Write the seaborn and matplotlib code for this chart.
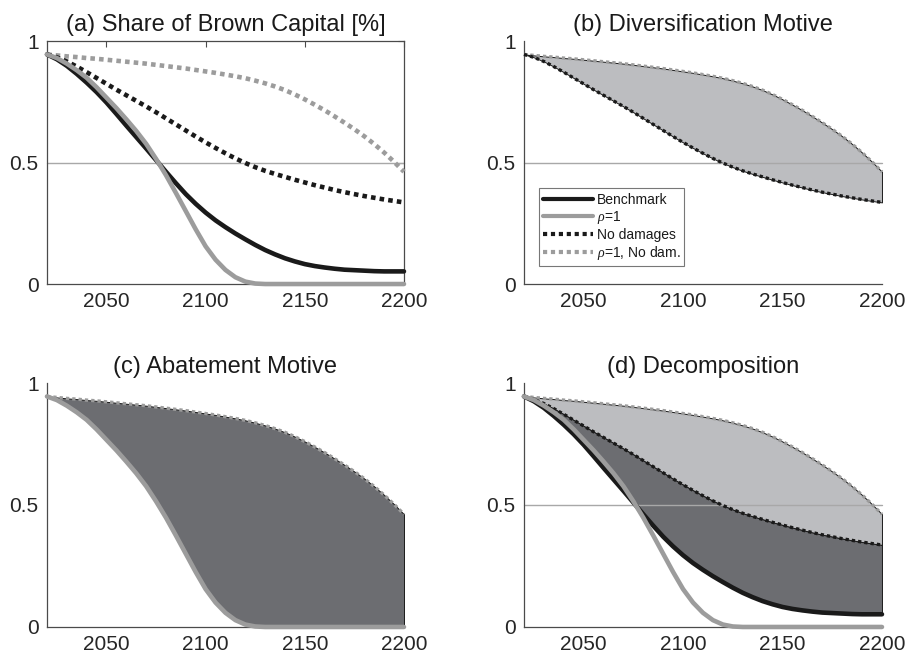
import numpy as np
import pandas as pd
import matplotlib
matplotlib.use("Agg")
import matplotlib.pyplot as plt
import seaborn as sns
from matplotlib.lines import Line2D

# ---------------- data ----------------
years = list(range(2020, 2201, 5))

benchmark = [0.945, 0.925, 0.898, 0.865, 0.829, 0.790, 0.747, 0.700, 0.652, 0.605,
             0.558, 0.510, 0.462, 0.415, 0.370, 0.330, 0.294, 0.262, 0.234, 0.208,
             0.184, 0.161, 0.140, 0.122, 0.106, 0.093, 0.082, 0.074, 0.068, 0.063,
             0.059, 0.057, 0.055, 0.053, 0.052, 0.052, 0.052]

rho1 = [0.945, 0.930, 0.907, 0.880, 0.849, 0.810, 0.767, 0.724, 0.678, 0.630,
        0.577, 0.515, 0.448, 0.375, 0.300, 0.225, 0.155, 0.100, 0.058, 0.028,
        0.010, 0.002, 0.0, 0.0, 0.0, 0.0, 0.0, 0.0, 0.0, 0.0,
        0.0, 0.0, 0.0, 0.0, 0.0, 0.0, 0.0]

no_damages = [0.945, 0.933, 0.916, 0.895, 0.872, 0.848, 0.824, 0.800, 0.777, 0.754,
              0.731, 0.707, 0.682, 0.657, 0.632, 0.607, 0.583, 0.560, 0.538, 0.517,
              0.498, 0.481, 0.466, 0.453, 0.441, 0.429, 0.418, 0.407, 0.397, 0.387,
              0.378, 0.370, 0.362, 0.355, 0.348, 0.342, 0.336]

rho1_no_dam = [0.945, 0.941, 0.937, 0.934, 0.930, 0.927, 0.923, 0.919, 0.915, 0.911,
               0.907, 0.902, 0.897, 0.892, 0.887, 0.881, 0.875, 0.869, 0.862, 0.855,
               0.847, 0.837, 0.826, 0.813, 0.798, 0.780, 0.760, 0.738, 0.715, 0.690,
               0.664, 0.637, 0.608, 0.576, 0.541, 0.503, 0.462]

titles = ["(a) Share of Brown Capital [%]", "(b) Diversification Motive",
          "(c) Abatement Motive", "(d) Decomposition"]
legend_labels = ["Benchmark", r"$\rho$=1", "No damages", r"$\rho$=1, No dam."]
xticks = [2050, 2100, 2150, 2200]
yticks = [0, 0.5, 1]
ytick_labels = ["0", "0.5", "1"]

# ---------------- style ----------------
sns.set_theme(style="white")
plt.rcParams["font.family"] = ["Liberation Sans", "DejaVu Sans"]
plt.rcParams["mathtext.fontset"] = "custom"
plt.rcParams["mathtext.it"] = "Liberation Serif:italic"

BLACK = "#1a1a1a"
GRAY = "#9c9c9c"
LIGHT = "#bcbdc0"
DARK = "#6c6d71"
AXC = "#4a4a4a"
DOT = (0, (1, 0.9))
LW = 3.3
LWD = 2.4

df = pd.DataFrame({"year": years, "bench": benchmark, "rho1": rho1,
                   "nodam": no_damages, "rho1nodam": rho1_no_dam})

fig = plt.figure(figsize=(9.07, 6.59), dpi=100)
pos = [(0.0518, 0.569, 0.3936, 0.3687), (0.5777, 0.569, 0.3947, 0.3687),
       (0.0518, 0.0486, 0.3936, 0.3702), (0.5777, 0.0486, 0.3947, 0.3702)]
axes = [fig.add_axes(p) for p in pos]

def style_ax(ax, title, box=False):
    ax.set_xlim(2020, 2200)
    ax.set_ylim(0, 1)
    ax.set_xticks(xticks)
    ax.set_xticklabels([str(t) for t in xticks])
    ax.set_yticks(yticks)
    ax.set_yticklabels(ytick_labels)
    ax.tick_params(direction="in", length=4, width=0.8, color=AXC,
                   labelsize=15, labelcolor="#262626", top=box, right=box)
    ax.tick_params(axis="x", pad=6)
    ax.tick_params(axis="y", pad=6)
    for s in ["left", "bottom"]:
        ax.spines[s].set_color(AXC)
        ax.spines[s].set_linewidth(0.9)
    for s in ["top", "right"]:
        ax.spines[s].set_visible(box)
        ax.spines[s].set_color(AXC)
        ax.spines[s].set_linewidth(0.9)
    ax.set_xlabel("")
    ax.set_ylabel("")
    ax.set_title(title, fontsize=17, color="#1a1a1a", pad=7)
    ax.set_facecolor("white")

def hline(ax):
    ax.axhline(0.5, color="#a8a8a8", lw=1.0, zorder=2.5)

yrs = np.array(years)

# (a)
ax = axes[0]
hline(ax)
sns.lineplot(data=df, x="year", y="rho1nodam", ax=ax, color=GRAY, lw=LW, linestyle=DOT, zorder=3)
sns.lineplot(data=df, x="year", y="nodam", ax=ax, color=BLACK, lw=LW, linestyle=DOT, zorder=3)
sns.lineplot(data=df, x="year", y="bench", ax=ax, color=BLACK, lw=LW, zorder=4)
sns.lineplot(data=df, x="year", y="rho1", ax=ax, color=GRAY, lw=LW, zorder=5)
style_ax(ax, titles[0], box=True)

# (b)
ax = axes[1]
ax.fill_between(yrs, df["nodam"], df["rho1nodam"], facecolor=LIGHT, edgecolor=BLACK, lw=0.7, zorder=2)
hline(ax)
sns.lineplot(data=df, x="year", y="rho1nodam", ax=ax, color=GRAY, lw=LWD, linestyle=DOT, zorder=3)
sns.lineplot(data=df, x="year", y="nodam", ax=ax, color=BLACK, lw=LWD, linestyle=DOT, zorder=3)
style_ax(ax, titles[1])
handles = [Line2D([], [], color=BLACK, lw=3),
           Line2D([], [], color=GRAY, lw=3),
           Line2D([], [], color=BLACK, lw=3, linestyle=DOT),
           Line2D([], [], color=GRAY, lw=3, linestyle=DOT)]
leg = ax.legend(handles, legend_labels, loc="lower left", bbox_to_anchor=(0.042, 0.074),
                borderaxespad=0, fontsize=10, handlelength=3.6, handletextpad=0.25,
                labelspacing=0.15, borderpad=0.3, fancybox=False, framealpha=1,
                edgecolor="#777777")
leg.get_frame().set_linewidth(0.8)
for t in leg.get_texts():
    t.set_color("#1a1a1a")
leg.set_zorder(10)

# (c)
ax = axes[2]
ax.fill_between(yrs, df["rho1"], df["rho1nodam"], facecolor=DARK, edgecolor=BLACK, lw=0.7, zorder=2)
sns.lineplot(data=df, x="year", y="rho1nodam", ax=ax, color=GRAY, lw=LWD, linestyle=DOT, zorder=3)
sns.lineplot(data=df, x="year", y="rho1", ax=ax, color=GRAY, lw=LW, zorder=3)
style_ax(ax, titles[2])

# (d)
ax = axes[3]
ax.fill_between(yrs, df["nodam"], df["rho1nodam"], facecolor=LIGHT, edgecolor=BLACK, lw=0.7, zorder=2)
ax.fill_between(yrs, df["bench"], df["nodam"], facecolor=DARK, edgecolor=BLACK, lw=0.7, zorder=2)
hline(ax)
sns.lineplot(data=df, x="year", y="rho1nodam", ax=ax, color=GRAY, lw=LWD, linestyle=DOT, zorder=3)
sns.lineplot(data=df, x="year", y="nodam", ax=ax, color=BLACK, lw=LWD, linestyle=DOT, zorder=3)
sns.lineplot(data=df, x="year", y="bench", ax=ax, color=BLACK, lw=LW, zorder=4)
sns.lineplot(data=df, x="year", y="rho1", ax=ax, color=GRAY, lw=LW, zorder=5)
style_ax(ax, titles[3])

for ax in axes:
    for l in ax.get_lines():
        l.set_clip_on(False)
    if ax.get_legend() is not None and ax is not axes[1]:
        ax.get_legend().remove()

fig.savefig("out.png", dpi=100, facecolor="white")
